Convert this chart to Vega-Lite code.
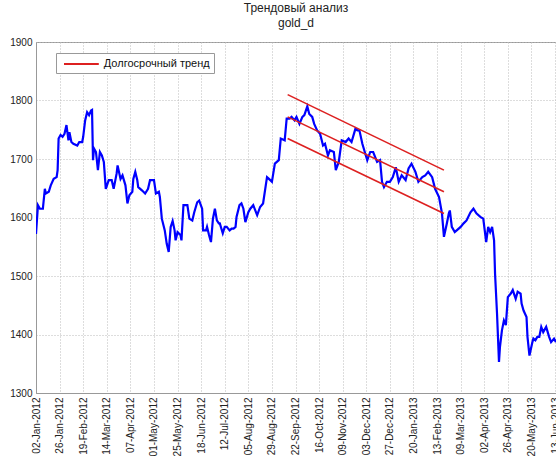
{
  "$schema": "https://vega.github.io/schema/vega-lite/v6.json",
  "width": 520,
  "height": 351,
  "autosize": "none",
  "padding": {"left": 36, "top": 42, "right": 0, "bottom": 69},
  "background": "white",
  "title": {"text": ["Трендовый анализ", "gold_d"], "fontSize": 12, "fontWeight": "normal", "font": "Liberation Sans", "color": "#222222", "anchor": "middle", "offset": 7, "lineHeight": 15},
  "config": {
    "view": {"stroke": "#999999", "strokeWidth": 1},
    "font": "Liberation Sans"
  },
  "datasets": {
    "gold": [
      {"date": "2012-01-02", "price": 1572}, {"date": "2012-01-04", "price": 1621}, {"date": "2012-01-06", "price": 1615}, {"date": "2012-01-09", "price": 1615},
      {"date": "2012-01-11", "price": 1649}, {"date": "2012-01-12", "price": 1641}, {"date": "2012-01-15", "price": 1644}, {"date": "2012-01-17", "price": 1655},
      {"date": "2012-01-20", "price": 1666}, {"date": "2012-01-23", "price": 1669}, {"date": "2012-01-24", "price": 1681}, {"date": "2012-01-25", "price": 1735},
      {"date": "2012-01-27", "price": 1741}, {"date": "2012-01-29", "price": 1738}, {"date": "2012-01-31", "price": 1743}, {"date": "2012-02-02", "price": 1758},
      {"date": "2012-02-04", "price": 1732}, {"date": "2012-02-05", "price": 1746}, {"date": "2012-02-07", "price": 1729}, {"date": "2012-02-09", "price": 1726},
      {"date": "2012-02-13", "price": 1723}, {"date": "2012-02-15", "price": 1729}, {"date": "2012-02-18", "price": 1729}, {"date": "2012-02-19", "price": 1738},
      {"date": "2012-02-21", "price": 1766}, {"date": "2012-02-23", "price": 1780}, {"date": "2012-02-25", "price": 1775}, {"date": "2012-02-27", "price": 1783},
      {"date": "2012-02-28", "price": 1784}, {"date": "2012-02-29", "price": 1698}, {"date": "2012-03-01", "price": 1718}, {"date": "2012-03-03", "price": 1712},
      {"date": "2012-03-05", "price": 1681}, {"date": "2012-03-07", "price": 1712}, {"date": "2012-03-09", "price": 1706}, {"date": "2012-03-11", "price": 1695},
      {"date": "2012-03-13", "price": 1649}, {"date": "2012-03-16", "price": 1664}, {"date": "2012-03-19", "price": 1664}, {"date": "2012-03-21", "price": 1649},
      {"date": "2012-03-24", "price": 1675}, {"date": "2012-03-25", "price": 1689}, {"date": "2012-03-28", "price": 1666}, {"date": "2012-03-30", "price": 1672},
      {"date": "2012-04-02", "price": 1655}, {"date": "2012-04-04", "price": 1624}, {"date": "2012-04-06", "price": 1638}, {"date": "2012-04-09", "price": 1644},
      {"date": "2012-04-10", "price": 1666}, {"date": "2012-04-12", "price": 1678}, {"date": "2012-04-14", "price": 1664}, {"date": "2012-04-15", "price": 1652},
      {"date": "2012-04-19", "price": 1646}, {"date": "2012-04-22", "price": 1641}, {"date": "2012-04-25", "price": 1649}, {"date": "2012-04-27", "price": 1664},
      {"date": "2012-05-01", "price": 1664}, {"date": "2012-05-03", "price": 1641}, {"date": "2012-05-06", "price": 1644}, {"date": "2012-05-07", "price": 1635},
      {"date": "2012-05-09", "price": 1598}, {"date": "2012-05-12", "price": 1578}, {"date": "2012-05-14", "price": 1555}, {"date": "2012-05-16", "price": 1541},
      {"date": "2012-05-18", "price": 1584}, {"date": "2012-05-20", "price": 1594}, {"date": "2012-05-22", "price": 1578}, {"date": "2012-05-23", "price": 1561},
      {"date": "2012-05-25", "price": 1575}, {"date": "2012-05-28", "price": 1570}, {"date": "2012-05-29", "price": 1561}, {"date": "2012-05-31", "price": 1621},
      {"date": "2012-06-04", "price": 1621}, {"date": "2012-06-06", "price": 1598}, {"date": "2012-06-09", "price": 1595}, {"date": "2012-06-11", "price": 1609},
      {"date": "2012-06-14", "price": 1626}, {"date": "2012-06-16", "price": 1629}, {"date": "2012-06-19", "price": 1615}, {"date": "2012-06-20", "price": 1578},
      {"date": "2012-06-23", "price": 1578}, {"date": "2012-06-24", "price": 1584}, {"date": "2012-06-26", "price": 1570}, {"date": "2012-06-28", "price": 1558},
      {"date": "2012-06-30", "price": 1598}, {"date": "2012-07-02", "price": 1615}, {"date": "2012-07-04", "price": 1595}, {"date": "2012-07-06", "price": 1590},
      {"date": "2012-07-07", "price": 1590}, {"date": "2012-07-10", "price": 1573}, {"date": "2012-07-12", "price": 1584}, {"date": "2012-07-14", "price": 1584},
      {"date": "2012-07-17", "price": 1578}, {"date": "2012-07-19", "price": 1581}, {"date": "2012-07-21", "price": 1581}, {"date": "2012-07-23", "price": 1584},
      {"date": "2012-07-24", "price": 1601}, {"date": "2012-07-27", "price": 1621}, {"date": "2012-07-29", "price": 1624}, {"date": "2012-07-31", "price": 1615},
      {"date": "2012-08-02", "price": 1592}, {"date": "2012-08-05", "price": 1609}, {"date": "2012-08-07", "price": 1615}, {"date": "2012-08-10", "price": 1621},
      {"date": "2012-08-14", "price": 1604}, {"date": "2012-08-17", "price": 1618}, {"date": "2012-08-20", "price": 1624}, {"date": "2012-08-24", "price": 1669},
      {"date": "2012-08-26", "price": 1666}, {"date": "2012-08-29", "price": 1661}, {"date": "2012-09-01", "price": 1692}, {"date": "2012-09-05", "price": 1698},
      {"date": "2012-09-07", "price": 1735}, {"date": "2012-09-11", "price": 1732}, {"date": "2012-09-13", "price": 1769}, {"date": "2012-09-16", "price": 1769},
      {"date": "2012-09-18", "price": 1772}, {"date": "2012-09-21", "price": 1766}, {"date": "2012-09-23", "price": 1772}, {"date": "2012-09-26", "price": 1760},
      {"date": "2012-09-29", "price": 1772}, {"date": "2012-10-01", "price": 1775}, {"date": "2012-10-04", "price": 1790}, {"date": "2012-10-06", "price": 1777},
      {"date": "2012-10-09", "price": 1772}, {"date": "2012-10-11", "price": 1760}, {"date": "2012-10-14", "price": 1749}, {"date": "2012-10-17", "price": 1743},
      {"date": "2012-10-20", "price": 1723}, {"date": "2012-10-22", "price": 1726}, {"date": "2012-10-25", "price": 1706}, {"date": "2012-10-27", "price": 1715},
      {"date": "2012-10-31", "price": 1712}, {"date": "2012-11-02", "price": 1681}, {"date": "2012-11-05", "price": 1695}, {"date": "2012-11-08", "price": 1732},
      {"date": "2012-11-12", "price": 1729}, {"date": "2012-11-15", "price": 1735}, {"date": "2012-11-18", "price": 1729}, {"date": "2012-11-22", "price": 1752},
      {"date": "2012-11-24", "price": 1749}, {"date": "2012-11-26", "price": 1749}, {"date": "2012-11-29", "price": 1726}, {"date": "2012-12-02", "price": 1709},
      {"date": "2012-12-04", "price": 1698}, {"date": "2012-12-07", "price": 1712}, {"date": "2012-12-10", "price": 1712}, {"date": "2012-12-14", "price": 1695},
      {"date": "2012-12-17", "price": 1698}, {"date": "2012-12-19", "price": 1661}, {"date": "2012-12-21", "price": 1652}, {"date": "2012-12-24", "price": 1661},
      {"date": "2012-12-27", "price": 1661}, {"date": "2012-12-30", "price": 1669}, {"date": "2013-01-02", "price": 1686}, {"date": "2013-01-05", "price": 1661},
      {"date": "2013-01-08", "price": 1672}, {"date": "2013-01-12", "price": 1664}, {"date": "2013-01-15", "price": 1684}, {"date": "2013-01-18", "price": 1692},
      {"date": "2013-01-22", "price": 1678}, {"date": "2013-01-25", "price": 1661}, {"date": "2013-01-29", "price": 1669}, {"date": "2013-02-01", "price": 1672},
      {"date": "2013-02-04", "price": 1678}, {"date": "2013-02-08", "price": 1669}, {"date": "2013-02-11", "price": 1649}, {"date": "2013-02-15", "price": 1635},
      {"date": "2013-02-18", "price": 1607}, {"date": "2013-02-20", "price": 1567}, {"date": "2013-02-23", "price": 1590}, {"date": "2013-02-25", "price": 1607},
      {"date": "2013-02-26", "price": 1612}, {"date": "2013-02-28", "price": 1584}, {"date": "2013-03-03", "price": 1575}, {"date": "2013-03-05", "price": 1578},
      {"date": "2013-03-09", "price": 1584}, {"date": "2013-03-12", "price": 1590}, {"date": "2013-03-15", "price": 1595}, {"date": "2013-03-19", "price": 1609},
      {"date": "2013-03-22", "price": 1615}, {"date": "2013-03-25", "price": 1607}, {"date": "2013-03-29", "price": 1601}, {"date": "2013-04-01", "price": 1598},
      {"date": "2013-04-04", "price": 1558}, {"date": "2013-04-06", "price": 1584}, {"date": "2013-04-08", "price": 1575}, {"date": "2013-04-10", "price": 1584},
      {"date": "2013-04-12", "price": 1561}, {"date": "2013-04-13", "price": 1504}, {"date": "2013-04-15", "price": 1436}, {"date": "2013-04-17", "price": 1353},
      {"date": "2013-04-18", "price": 1379}, {"date": "2013-04-20", "price": 1407}, {"date": "2013-04-22", "price": 1424}, {"date": "2013-04-24", "price": 1416},
      {"date": "2013-04-26", "price": 1464}, {"date": "2013-04-29", "price": 1470}, {"date": "2013-05-01", "price": 1476}, {"date": "2013-05-04", "price": 1461},
      {"date": "2013-05-06", "price": 1473}, {"date": "2013-05-09", "price": 1470}, {"date": "2013-05-10", "price": 1453}, {"date": "2013-05-12", "price": 1441},
      {"date": "2013-05-15", "price": 1430}, {"date": "2013-05-16", "price": 1396}, {"date": "2013-05-18", "price": 1364}, {"date": "2013-05-21", "price": 1387},
      {"date": "2013-05-22", "price": 1393}, {"date": "2013-05-24", "price": 1390}, {"date": "2013-05-26", "price": 1396}, {"date": "2013-05-28", "price": 1396},
      {"date": "2013-05-30", "price": 1413}, {"date": "2013-06-01", "price": 1404}, {"date": "2013-06-04", "price": 1413}, {"date": "2013-06-07", "price": 1396},
      {"date": "2013-06-09", "price": 1387}, {"date": "2013-06-12", "price": 1393}, {"date": "2013-06-14", "price": 1387}
    ],
    "trend": [
      {"date": "2012-09-14", "price": 1810, "line": "upper", "series": "Долгосрочный тренд"},
      {"date": "2013-02-20", "price": 1681, "line": "upper", "series": "Долгосрочный тренд"},
      {"date": "2012-09-14", "price": 1772, "line": "middle", "series": "Долгосрочный тренд"},
      {"date": "2013-02-20", "price": 1644, "line": "middle", "series": "Долгосрочный тренд"},
      {"date": "2012-09-14", "price": 1735, "line": "lower", "series": "Долгосрочный тренд"},
      {"date": "2013-02-20", "price": 1607, "line": "lower", "series": "Долгосрочный тренд"}
    ]
  },
  "encoding": {
    "x": {
      "field": "date", "type": "temporal",
      "scale": {"type": "utc", "domain": [{"year": 2012, "month": 1, "date": 2, "utc": true}, {"year": 2013, "month": 6, "date": 14, "utc": true}], "nice": false},
      "axis": {
        "title": null, "format": "%d-%b-%Y", "labelAngle": 270, "labelFontSize": 10, "labelColor": "#222222",
        "labelPadding": 4, "labelOverlap": false, "ticks": false, "domainColor": "#999999",
        "grid": true, "gridDash": [1, 2], "gridColor": "#bbbbbb",
        "values": [
          {"year": 2012, "month": 1, "date": 2, "utc": true}, {"year": 2012, "month": 1, "date": 26, "utc": true},
          {"year": 2012, "month": 2, "date": 19, "utc": true}, {"year": 2012, "month": 3, "date": 14, "utc": true},
          {"year": 2012, "month": 4, "date": 7, "utc": true}, {"year": 2012, "month": 5, "date": 1, "utc": true},
          {"year": 2012, "month": 5, "date": 25, "utc": true}, {"year": 2012, "month": 6, "date": 18, "utc": true},
          {"year": 2012, "month": 7, "date": 12, "utc": true}, {"year": 2012, "month": 8, "date": 5, "utc": true},
          {"year": 2012, "month": 8, "date": 29, "utc": true}, {"year": 2012, "month": 9, "date": 22, "utc": true},
          {"year": 2012, "month": 10, "date": 16, "utc": true}, {"year": 2012, "month": 11, "date": 9, "utc": true},
          {"year": 2012, "month": 12, "date": 3, "utc": true}, {"year": 2012, "month": 12, "date": 27, "utc": true},
          {"year": 2013, "month": 1, "date": 20, "utc": true}, {"year": 2013, "month": 2, "date": 13, "utc": true},
          {"year": 2013, "month": 3, "date": 9, "utc": true}, {"year": 2013, "month": 4, "date": 2, "utc": true},
          {"year": 2013, "month": 4, "date": 26, "utc": true}, {"year": 2013, "month": 5, "date": 20, "utc": true},
          {"year": 2013, "month": 6, "date": 13, "utc": true}
        ]
      }
    },
    "y": {
      "field": "price", "type": "quantitative",
      "scale": {"domain": [1300, 1900], "nice": false, "zero": false},
      "axis": {
        "title": null, "values": [1300, 1400, 1500, 1600, 1700, 1800, 1900], "format": "d", "labelFontSize": 10, "labelColor": "#222222",
        "labelPadding": 4, "ticks": false, "domainColor": "#999999",
        "grid": true, "gridDash": [1, 2], "gridColor": "#bbbbbb"
      }
    }
  },
  "layer": [
    {
      "data": {"name": "gold"},
      "mark": {"type": "line", "color": "#0000ff", "strokeWidth": 2.2, "clip": true}
    },
    {
      "data": {"name": "trend"},
      "mark": {"type": "line", "strokeWidth": 1.6},
      "encoding": {
        "detail": {"field": "line"},
        "color": {
          "field": "series", "type": "nominal",
          "scale": {"range": ["#dd2020"]},
          "legend": {
            "title": null, "orient": "none", "legendX": 20, "legendY": 11,
            "symbolType": "M-2.9,0H2.9", "symbolStrokeWidth": 2, "symbolSize": 144, "symbolOffset": 14.4,
            "labelFontSize": 11, "labelColor": "#111111", "labelOffset": 15.4,
            "strokeColor": "#999999", "fillColor": "white", "padding": 4, "cornerRadius": 0
          }
        }
      }
    }
  ]
}
